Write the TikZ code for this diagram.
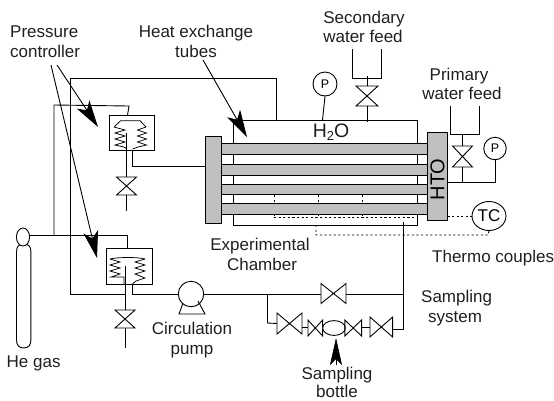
\documentclass[tikz,border=0pt]{standalone}
\usepackage{fontspec}
\setmainfont{Liberation Sans}
\usetikzlibrary{arrows.meta,shapes.geometric}
\newcommand{\bowtieH}[1]{\draw[pipe] (#1.north west)--(#1.north east)--(#1.south west)--(#1.south east)--cycle;}
\newcommand{\bowtieV}[1]{\draw[pipe] (#1.north west)--(#1.south east)--(#1.north east)--(#1.south west)--cycle;}
\tikzset{
 pipe/.style={line width=0.9pt,draw=black,line join=miter},
 thin pipe/.style={line width=0.75pt,draw=black},
 dots/.style={line width=0.9pt,draw=black,dash pattern=on 2.2pt off 2.4pt},
 box/.style={draw=black,line width=0.9pt,fill=white,inner sep=0pt,anchor=north west},
 vlv/.style={inner sep=0pt,outer sep=0pt,minimum width=#1},
 tube/.style={draw=black,line width=0.9pt,fill=tubegrey,inner sep=0pt,minimum width=206pt,minimum height=10.7pt},
 flange/.style={draw=black,line width=0.9pt,fill=tubegrey,inner sep=0pt},
 gauge/.style={circle,draw=black,line width=0.9pt,fill=white,inner sep=0pt,font=\fontsize{12.5}{14}\selectfont},
 oval/.style={ellipse,draw=black,line width=0.9pt,fill=white,inner sep=0pt},
 lab/.style={inner sep=0pt,anchor=base,text=black!88},
 pointer/.style={line width=0.9pt,-{Stealth[length=27pt,width=15pt,inset=7pt]}},
}
\definecolor{tubegrey}{HTML}{BFBFBF}
\begin{document}
\begin{tikzpicture}[x=1pt,y=-1pt,font=\fontsize{17}{20}\selectfont]
\useasboundingbox (0,0) rectangle (554,400);
% anchors
\coordinate (loopA) at (70,294);
\coordinate (loopB) at (70,78);
\coordinate (loopC) at (276,78);
\coordinate (loopD) at (276,120);
\coordinate (heT) at (30,235);
\coordinate (heU) at (54,235);
\coordinate (heV) at (54,105);
\coordinate (heW) at (129,106);
% chamber
\node[box,minimum width=184pt,minimum height=105pt] (chamber) at (233,120) {};
% outer pipes
\draw[pipe] (loopA)--(loopB)--(loopC)--(loopD);
\draw[pipe] (heT)--(127,235)--(127,248);
\draw[pipe] (heU)--(heV)--(heW)--(127.5,115);
% dotted thermocouples inside
\draw[dots] (274,195)--(274,217) (318,195)--(318,217) (362,195)--(362,217);
% tubes
\node[tube] (t1) at (324.5,148.7) {};
\node[tube] (t2) at (324.5,169.7) {};
\node[tube] (t3) at (324.5,189.4) {};
\node[tube] (t4) at (324.5,209.2) {};
\node[flange,minimum width=16.5pt,minimum height=87.5pt] (fl) at (213.3,179.7) {};
\node[flange,minimum width=19.5pt,minimum height=87.5pt] (fr) at (437.2,176.2) {};
\node[rotate=90,inner sep=0pt,text=black,font=\fontsize{20}{22}\selectfont] (hto) at (437.5,179.5) {HTO};
\node[lab,font=\fontsize{19.5}{22}\selectfont] (water) at (331,137) {H\raisebox{-3.5pt}{\fontsize{13}{14}\selectfont 2}O};
% thermocouple dotted
\node[oval,minimum width=34pt,minimum height=29pt,font=\fontsize{17}{20}\selectfont] (tc) at (489,216) {TC};
\coordinate (dA) at (274,217.5);
\draw[dots] (dA)--(417,217.5);
\draw[dots] (fr.east |- tc)--(tc.west);
\coordinate (dB) at (316,225);
\coordinate (dC) at (316,235);
\coordinate (dD) at (488,235);
\draw[dots] (dB)--(dC)--(dD)--(tc.south);
% upper pressure controller
\node[box,minimum width=45pt,minimum height=35pt] (pc1) at (109,115) {};
\draw[thin pipe] (114,127)--(120.7,120.7)--(140,120.7)--(146,127);
\draw[thin pipe] (114,127)--(125,130)--(115,133)--(125,136)--(115,139)--(125,142)--(115,145)--(124,147)--(127,149);
\draw[thin pipe] (146,127)--(137.5,130)--(146.5,133)--(137.5,136)--(146.5,139)--(137.5,142)--(146.5,145)--(138,147)--(132.5,149);
\node[vlv=20pt,minimum height=18pt] (v1) at (126.5,186) {};
\bowtieH{v1}
\coordinate (v1end) at (126.5,211);
\draw[pipe] (126.5,133)--(v1.north);
\draw[pipe] (v1.south)--(v1end);
\draw[pipe] (132.5,150)--(132.5,166)--(fl.west |- 0,166);
% lower pressure controller
\node[box,minimum width=46pt,minimum height=36pt] (pc2) at (106,248) {};
\draw[thin pipe] (110,259) .. controls (118,257) and (138,257) .. (145,259);
\draw[thin pipe] (110,259)--(120,262)--(110,265)--(120,268)--(110,271)--(120,274)--(111,277)--(124,277)--(124,284);
\draw[thin pipe] (145,259)--(135,262)--(145,265)--(135,268)--(145,271)--(135,274)--(145,278)--(136,281)--(132.5,284);
\node[vlv=20pt,minimum height=18pt] (v2) at (125,319) {};
\bowtieH{v2}
\draw[pipe] (125.5,266)--(125.5,284) (125,284)--(v2.north);
\coordinate (v2end) at (125,348);
\draw[pipe] (v2.south)--(v2end);
\draw[pipe] (loopA)--(125,294);
% pump
\node[circle,draw=black,line width=0.9pt,inner sep=0pt,minimum size=25.5pt,fill=white] (pump) at (191,294) {};
\draw[pipe] (183,303)--(179,314)--(205,314)--(198,301);
\draw[pipe] (132.5,284)--(132.5,294)--(pump.west);
% main line
\node[vlv=25pt,minimum height=20pt] (v3) at (333.5,293.5) {};
\bowtieV{v3}
\coordinate (sJ) at (403,294);
\coordinate (sTop) at (403,222);
\coordinate (sBot) at (403,329);
\draw[pipe] (pump.east)--(v3.west |- sJ);
\draw[pipe] (v3.east |- sJ)--(sJ);
\draw[pipe] (sTop)--(sBot)--(392.7,329);
% sampling branch
\node[vlv=25pt,minimum height=21pt] (v4) at (289.5,323.5) {};
\bowtieV{v4}
\node[vlv=14.7pt,minimum height=16pt] (v5) at (315.3,328) {};
\bowtieV{v5}
\node[oval,minimum width=22.6pt,minimum height=14.8pt] (bot) at (334,328) {};
\node[vlv=16.7pt,minimum height=16pt] (v6) at (353.2,328) {};
\bowtieV{v6}
\node[vlv=22.7pt,minimum height=20pt] (v7) at (381.3,327) {};
\bowtieV{v7}
\coordinate (bJ) at (267.5,294);
\draw[pipe] (bJ)--(267.5,323)--(v4.west);
\draw[pipe] (v4.east |- 0,327)--(v5.west |- 0,327);
\draw[pipe] (v6.east |- 0,327)--(v7.west |- 0,327);
% He bottle
\draw[pipe] (16.5,252) .. controls (16.5,246) and (19,244) .. (23.7,244) .. controls (28.4,244) and (30.9,246) .. (30.9,252) -- (30.9,340) .. controls (30.9,345) and (28.4,348) .. (23.7,348) .. controls (19,348) and (16.5,345) .. (16.5,340) -- cycle;
\node[oval,minimum width=13.2pt,minimum height=18pt] (he) at (23,237) {};
% water feeds
\coordinate (sfa) at (352.7,49);
\coordinate (sfb) at (381,49);
\draw[pipe] (sfa)--(352.7,78)--(381,78)--(sfb);
\node[vlv=22pt,minimum height=20pt] (v8) at (367,96) {};
\bowtieH{v8}
\draw[pipe] (367,76)--(v8.north) (v8.south)--(367,122);
\node[gauge,minimum size=24pt] (p1) at (325,84) {P};
\draw[pipe] (p1.south)--(322.5,120);
\coordinate (pfa) at (450.3,106);
\coordinate (pfb) at (479,106);
\draw[pipe] (pfa)--(450.3,134.5)--(479,134.5)--(pfb);
\node[vlv=20pt,minimum height=21pt] (v9) at (462.5,156.5) {};
\bowtieH{v9}
\draw[pipe] (462.5,134.5)--(v9.north) (v9.south)--(462.5,182);
\node[gauge,minimum size=22.5pt] (p2) at (495,148.5) {P};
\draw[pipe] (fr.east |- 0,182)--(495,182)--(p2.south);
% labels
\node[lab,anchor=base west] (lp) at (10,37) {Pressure};
\node[lab,anchor=base west] (lc) at (10,57) {controller};
\node[lab] (lh) at (196,37) {Heat exchange};
\node[lab] (lt) at (196,57) {tubes};
\node[lab] at (364,23) {Secondary};
\node[lab] at (363,42) {water feed};
\node[lab] at (459,80) {Primary};
\node[lab] at (462,99) {water feed};
\node[lab] at (260,250) {Experimental};
\node[lab] at (262,270) {Chamber};
\node[lab,anchor=base west] at (432,262) {Thermo couples};
\node[lab,anchor=base west] at (421,302) {Sampling};
\node[lab,anchor=base west] at (428,322) {system};
\node[lab] (lb) at (337,379) {Sampling};
\node[lab] at (337,397.5) {bottle};
\node[lab] at (192,334) {Circulation};
\node[lab] at (192,354) {pump};
\node[lab,anchor=base west] at (6.5,367) {He gas};
% pointers
\coordinate (a1s) at (57,65);
\coordinate (a1e) at (98,127);
\coordinate (a2s) at (51,65);
\coordinate (a2e) at (97,258);
\coordinate (a3s) at (203,60);
\coordinate (a3e) at (247,137);
\coordinate (a4s) at (336,365);
\coordinate (a4e) at (336,338);
\draw[pointer] (a1s)--(a1e);
\draw[pointer] (a2s)--(a2e);
\draw[pointer] (a3s)--(a3e);
\draw[line width=0.6pt,-{Stealth[length=27pt,width=12pt,inset=6pt]}] (a4s)--(a4e);
\end{tikzpicture}
\end{document}
